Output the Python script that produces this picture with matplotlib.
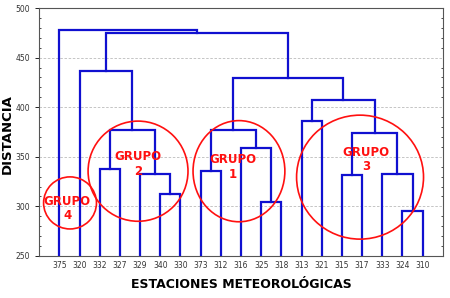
import numpy as np
import matplotlib
matplotlib.use("Agg")
import matplotlib.pyplot as plt
from matplotlib.patches import Ellipse

# estaciones en el orden del dendrograma
estaciones = ["375", "320", "332", "327", "329", "340", "330", "373", "312",
              "316", "325", "318", "313", "321", "315", "317", "333", "324", "310"]

# uniones (nodo izq, nodo der, distancia) -- nodos 0..18 son hojas
union_izq = [5, 4, 2, 21, 1, 10, 9, 7, 26, 17, 16, 14, 30, 12, 32, 27, 23, 0]
union_der = [6, 19, 3, 20, 22, 11, 24, 8, 25, 18, 28, 15, 29, 13, 31, 33, 34, 35]
union_dist = [313, 333, 338, 377, 437, 304, 359, 336, 377, 295, 333, 332, 374, 386, 407, 429, 475, 478]

grupos = ["GRUPO\n4", "GRUPO\n2", "GRUPO\n1", "GRUPO\n3"]

fig = plt.figure(figsize=(4.5, 2.98), dpi=100)
ax = fig.add_axes([0.087, 0.141, 0.897, 0.832])

y0 = 250
xs = list(np.arange(1, len(estaciones) + 1, dtype=float))
hs = [y0] * len(estaciones)
for a, b, d in zip(union_izq, union_der, union_dist):
    ax.plot([xs[a], xs[a], xs[b], xs[b]], [hs[a], d, d, hs[b]],
            color="#1010d0", lw=1.6, solid_joinstyle="miter", zorder=3)
    xs.append((xs[a] + xs[b]) / 2)
    hs.append(d)

# circulos de grupos
circulos = [(1.53, 303.5, 2.62, 52.5), (4.9, 335.5, 4.95, 101),
            (9.9, 335.5, 4.55, 102), (15.9, 329.5, 6.29, 125)]
textos = [(1.39, 298), (4.89, 342.5), (9.58, 339.5), (16.21, 347.5)]
for (cx, cy, w, h), (tx, ty), g in zip(circulos, textos, grupos):
    ax.add_patch(Ellipse((cx, cy), w, h, fill=False, ec="#ff1010", lw=1.2, zorder=4))
    ax.text(tx, ty, g, color="#ff1010", fontsize=8.5, fontweight="bold",
            ha="center", va="center", linespacing=1.15, zorder=5)

ax.set_xlim(0, 20)
ax.set_ylim(250, 500)
ax.set_xticks(range(1, len(estaciones) + 1))
ax.set_xticklabels(estaciones)
ax.set_yticks([250, 300, 350, 400, 450, 500])
ax.set_yticks(np.arange(250, 501, 10), minor=True)
ax.tick_params(axis="both", labelsize=5.5, labelcolor="#333333", length=3, width=0.6)
ax.tick_params(axis="y", which="minor", length=1.5, width=0.5, right=True, direction="in")
ax.tick_params(axis="x", length=0)
ax.grid(axis="y", color="#bbbbbb", ls=(0, (3, 2)), lw=0.6)
for s in ax.spines.values():
    s.set_color("#555555")
    s.set_linewidth(0.8)

ax.set_xlabel("ESTACIONES METEOROLÓGICAS", fontsize=9, fontweight="bold", labelpad=6)
ax.set_ylabel("DISTANCIA", fontsize=9.5, fontweight="bold")
ax.yaxis.set_label_coords(-0.062, 0.49)

fig.savefig("out.png", dpi=100)
